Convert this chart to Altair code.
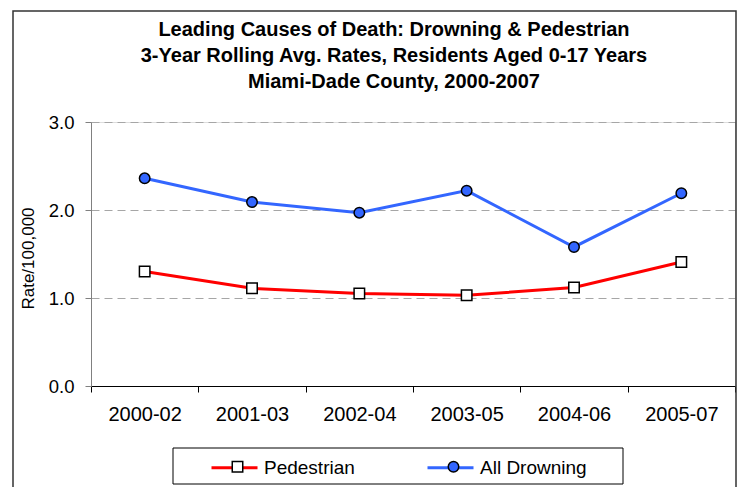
import altair as alt
import pandas as pd

periods = ["2000-02", "2001-03", "2002-04", "2003-05", "2004-06", "2005-07"]
pedestrian = [1.30, 1.11, 1.05, 1.03, 1.12, 1.41]
drowning = [2.36, 2.09, 1.97, 2.22, 1.58, 2.19]
series_names = ["Pedestrian", "All Drowning"]
line_colors = ["#ff0000", "#3366ff"]
marker_fills = ["#ffffff", "#3366ff"]
marker_strokes = ["#000000", "#000000"]
marker_shapes = ["square", "circle"]
y_ticks = [0, 1, 2, 3]
title_lines = [
    "Leading Causes of Death: Drowning & Pedestrian",
    "3-Year Rolling Avg. Rates, Residents Aged 0-17 Years",
    "Miami-Dade County, 2000-2007",
]

rows = []
for p, v in zip(periods, pedestrian):
    rows.append({"period": p, "rate": v, "series": "Pedestrian"})
for p, v in zip(periods, drowning):
    rows.append({"period": p, "rate": v, "series": "All Drowning"})
df = pd.DataFrame(rows)

FONT = "Liberation Sans"
W, H = 644, 264

x_enc = alt.X(
    "period:O",
    sort=periods,
    scale=alt.Scale(type="band", paddingInner=0, paddingOuter=0),
    bandPosition=0.5,
    axis=alt.Axis(
        title=None, labelAngle=0, labelFontSize=20, labelFont=FONT, labelColor="black",
        domainColor="black", tickColor="black", tickSize=6, tickBand="extent",
        labelPadding=12, grid=False,
    ),
)
y_enc = alt.Y(
    "rate:Q",
    scale=alt.Scale(domain=[0, 3], nice=False, zero=True),
    axis=alt.Axis(
        title="Rate/100,000", titleFont=FONT, titleFontSize=17, titleFontWeight="normal",
        titleColor="black", titleX=-63, titleY=136, titleBaseline="middle", titleAngle=-90,
        values=y_ticks, format=".1f", labelFontSize=18.5, labelFont=FONT, labelColor="black",
        labelPadding=11, tickSize=6, tickColor="#808080", domainColor="#808080",
        grid=True, gridColor="#a6a6a6", gridDash=[8, 5], gridWidth=1,
    ),
)

one = alt.Data(values=[{"a": 1}])

frame = alt.Chart(one).mark_rect(fill="transparent", stroke="#333333", strokeWidth=1.5).encode(
    x=alt.value(13 - 91), x2=alt.value(736 - 91), y=alt.value(11 - 122), y2=alt.value(520)
)
legend_box = alt.Chart(one).mark_rect(fill="white", stroke="black", strokeWidth=1).encode(
    x=alt.value(173 - 91), x2=alt.value(623 - 91), y=alt.value(448 - 122), y2=alt.value(484 - 122)
)

lines = alt.Chart(df).mark_line(strokeWidth=3).encode(
    x=x_enc,
    y=y_enc,
    color=alt.Color(
        "series:N",
        scale=alt.Scale(domain=series_names, range=line_colors),
        legend=alt.Legend(
            orient="none", legendX=210 - 91, legendY=321, direction="horizontal",
            title=None, symbolType="stroke", symbolSize=2116, symbolStrokeWidth=3,
            labelFont=FONT, labelFontSize=19, labelColor="black", labelOffset=5,
            columnPadding=66, padding=0,
        ),
    ),
    detail="series:N",
)

marker_legend = dict(
    orient="none", legendX=228 - 91, legendY=335, direction="horizontal",
    title=None, symbolSize=110, symbolStrokeWidth=1.5,
    labelFont=FONT, labelFontSize=19, labelOpacity=0, labelOffset=5,
    columnPadding=101, padding=0,
)

points = alt.Chart(df).transform_calculate(series2="datum.series").mark_point(
    filled=True, size=110, strokeWidth=1.5, opacity=1
).encode(
    x=x_enc,
    y=y_enc,
    shape=alt.Shape(
        "series2:N",
        scale=alt.Scale(domain=series_names, range=marker_shapes),
        legend=alt.Legend(**marker_legend),
    ),
    fill=alt.Fill(
        "series2:N",
        scale=alt.Scale(domain=series_names, range=marker_fills),
        legend=alt.Legend(**marker_legend),
    ),
    stroke=alt.Stroke(
        "series2:N",
        scale=alt.Scale(domain=series_names, range=marker_strokes),
        legend=alt.Legend(**marker_legend),
    ),
)

chart = alt.layer(frame, legend_box, lines, points).resolve_scale(
    color="independent", fill="independent", shape="independent", stroke="independent"
).properties(
    width=W,
    height=H,
    padding={"left": 83, "top": 114, "right": 4, "bottom": 101},
    autosize=alt.AutoSizeParams(type="none"),
    title=alt.Title(
        text=title_lines, font=FONT, fontSize=20, fontWeight="bold", color="black",
        anchor="middle", frame="group", dx=-19, lineHeight=26, offset=-82,
    ),
).configure_view(stroke=None).configure(background="white")

chart.save("out.html", embed_options={"renderer": "svg", "actions": False})
